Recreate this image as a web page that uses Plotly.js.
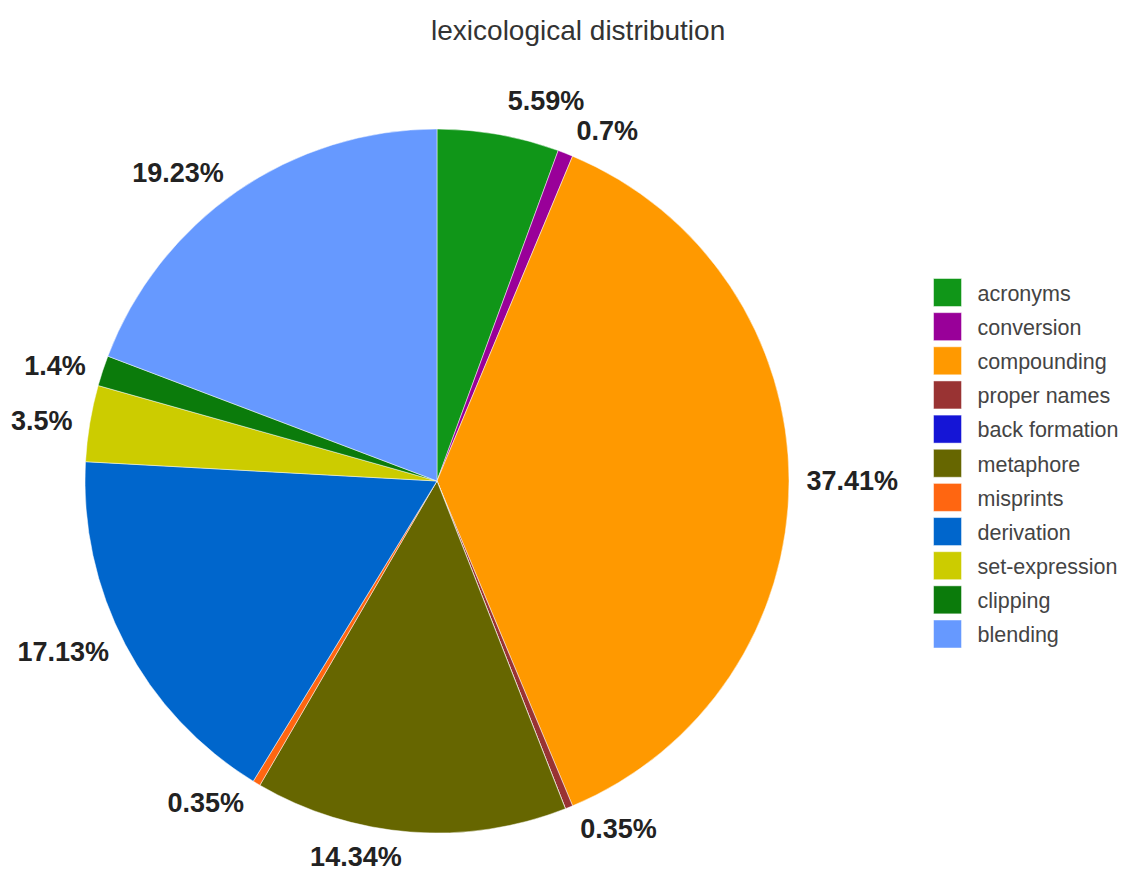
<!DOCTYPE html>
<html>
<head>
<meta charset="utf-8">
<script src="https://cdn.plot.ly/plotly-3.0.1.min.js"></script>
<style>
html,body{margin:0;padding:0;background:#fff;}
#chart{width:1127px;height:874px;}
.textline{display:none;}
</style>
</head>
<body>
<div id="chart"></div>
<script>
var categories = ["acronyms","conversion","compounding","proper names","back formation","metaphore","misprints","derivation","set-expression","clipping","blending"];
var counts = [16, 2, 107, 1, 0, 41, 1, 49, 10, 4, 55];
var colors = ["#109618","#990099","#FF9900","#993333","#1515d6","#666600","#FF6611","#0066CC","#CCCC00","#0B7B0B","#6699FF"];

var total = counts.reduce(function(a,b){return a+b;},0);
var labelsText = counts.map(function(v){
  if (v === 0) return "";
  return String(Number((v/total*100).toFixed(2))) + "%";
});
var FONT = "Arial, 'Liberation Sans', sans-serif";

var pieTrace = {
  type: "pie",
  labels: categories,
  values: counts,
  textinfo: "none",
  sort: false,
  direction: "clockwise",
  rotation: 0,
  marker: {colors: colors, line: {color: "rgba(255,255,255,0.6)", width: 0.8}},
  domain: {x: [0.0754, 0.7001], y: [0.0469, 0.8524]},
  hoverinfo: "label+percent"
};

var labelTrace = {
  type: "pie",
  labels: categories,
  values: counts,
  text: labelsText,
  textinfo: "text",
  textposition: "outside",
  sort: false,
  direction: "clockwise",
  rotation: 0,
  showlegend: false,
  marker: {colors: categories.map(function(){return "rgba(0,0,0,0)";}), line: {width: 0}},
  outsidetextfont: {family: FONT, size: 27, color: "#222", weight: "bold"},
  domain: {x: [0.0665, 0.7090], y: [0.0355, 0.8638]},
  hoverinfo: "skip"
};

var layout = {
  width: 1127,
  height: 874,
  margin: {l: 0, r: 0, t: 0, b: 0},
  paper_bgcolor: "#fff",
  title: {
    text: "lexicological distribution",
    x: 0.513, xanchor: "center",
    y: 0.966, yanchor: "middle",
    font: {family: FONT, size: 28, color: "#333"}
  },
  showlegend: true,
  legend: {
    x: 0.823, xanchor: "left",
    y: 0.5, yanchor: "middle",
    font: {family: FONT, size: 21.5, color: "#444"},
    itemwidth: 40,
    traceorder: "normal"
  }
};

Plotly.newPlot("chart", [pieTrace, labelTrace], layout, {displayModeBar: false, staticPlot: true}).then(function(){
  var paths = document.querySelectorAll("path.legendpie");
  paths.forEach(function(p){ p.setAttribute("d", "M9,14H-19V-14H9Z"); });
  var sb = document.querySelector(".legend .scrollbox");
  if (sb) sb.removeAttribute("clip-path");
  var items = document.querySelectorAll(".legend g.traces");
  if (!items.length) return;
  var r = items[0].querySelector("path.legendpie").getBoundingClientRect();
  var firstCenter = r.top + r.height / 2;
  var m = /translate\(\s*([-\d.]+)[ ,]+([-\d.]+)\s*\)/.exec(items[0].getAttribute("transform"));
  var tx = parseFloat(m[1]), ty0 = parseFloat(m[2]);
  var shift = 292.5 - firstCenter;
  items.forEach(function(it, i){
    it.setAttribute("transform", "translate(" + tx + "," + (ty0 + shift + i * 34.15) + ")");
  });
});
</script>
</body>
</html>
